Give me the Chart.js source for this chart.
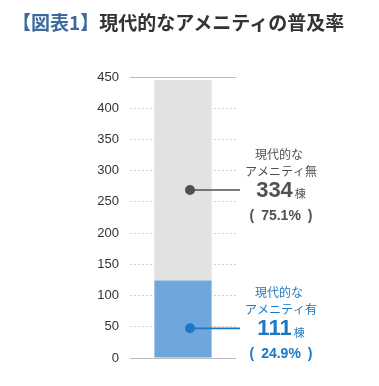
<!DOCTYPE html>
<html>
<head>
<meta charset="utf-8">
<script src="https://cdn.jsdelivr.net/npm/chart.js@4"></script>
<style>
    html, body { margin: 0; padding: 0; background: #fff; }
    .wrap { position: relative; width: 379px; height: 386px; }
    .title {
        position: absolute; left: 12px; top: 7px;
        font-family: "Noto Sans CJK JP", sans-serif; font-weight: bold;
        font-size: 19px; line-height: 30px; color: #333; white-space: nowrap;
    }
    .title span { color: #3d6a9e; }
    canvas { position: absolute; left: 0; top: 0; }
</style>
</head>
<body>
<div class="wrap">
    <canvas id="chart" width="379" height="386"></canvas>
    <div class="title"><span>【図表1】</span>現代的なアメニティの普及率</div>
</div>
<script>
// data
const categories = [''];
const seriesNames = ['現代的なアメニティ有', '現代的なアメニティ無'];
const withAmenity = [124];      // blue segment height as drawn
const withoutAmenity = [321];   // grey segment stacked on top
const yTicks = [0, 50, 100, 150, 200, 250, 300, 350, 400, 450];

// callout labels
const calloutNames = [['現代的な', 'アメニティ有'], ['現代的な', 'アメニティ無']];
const calloutCounts = ['111', '334'];
const calloutShares = ['24.9%', '75.1%'];
const calloutAt = [47.5, 269];  // y value where the dot sits

const colors = {
    blueBar: '#6fa7dc',
    greyBar: '#e2e2e2',
    blueInk: '#1c78c3',
    greyInk: '#505050'
};

const calloutPlugin = {
    id: 'callouts',
    afterDatasetsDraw(chart) {
        const ctx = chart.ctx;
        const y = chart.scales.y;
        const bar = chart.getDatasetMeta(0).data[0];
        const inks = [colors.blueInk, colors.greyInk];
        const textX = 281;
        const dotX = bar.x + 7;

        calloutAt.forEach((v, i) => {
            const py = y.getPixelForValue(v);
            const ink = inks[i];
            ctx.save();
            // leader line
            ctx.strokeStyle = ink;
            ctx.lineWidth = 1.6;
            ctx.beginPath();
            ctx.moveTo(dotX, py);
            ctx.lineTo(240, py);
            ctx.stroke();
            // dot
            ctx.fillStyle = ink;
            ctx.beginPath();
            ctx.arc(dotX, py, 5, 0, Math.PI * 2);
            ctx.fill();

            // text block
            ctx.textBaseline = 'middle';
            ctx.textAlign = 'center';
            ctx.font = '12px "Noto Sans CJK JP"';
            ctx.fillText(calloutNames[i][0], textX - 2, py - 36);
            ctx.fillText(calloutNames[i][1], textX, py - 19);

            // big number + 棟
            ctx.font = 'bold 22px "Liberation Sans"';
            const numW = ctx.measureText(calloutCounts[i]).width;
            ctx.font = '11px "Noto Sans CJK JP"';
            const unitW = ctx.measureText('棟').width;
            const start = textX - (numW + 2 + unitW) / 2;
            ctx.textAlign = 'left';
            ctx.font = 'bold 22px "Liberation Sans"';
            ctx.fillText(calloutCounts[i], start, py + 1);
            ctx.font = '11px "Noto Sans CJK JP"';
            ctx.fillText('棟', start + numW + 2, py + 4);

            // share in wide parentheses
            ctx.textAlign = 'center';
            ctx.font = 'bold 14px "Liberation Sans"';
            ctx.fillText('(\u2002' + calloutShares[i] + '\u2002)', textX, py + 26);
            ctx.restore();
        });
    }
};

new Chart(document.getElementById('chart'), {
    type: 'bar',
    data: {
        labels: categories,
        datasets: [
            { label: seriesNames[0], data: withAmenity, backgroundColor: colors.blueBar },
            { label: seriesNames[1], data: withoutAmenity, backgroundColor: colors.greyBar }
        ]
    },
    options: {
        responsive: false,
        animation: false,
        layout: { padding: { left: 0, top: 77, right: 143, bottom: 28 } },
        plugins: { legend: { display: false }, tooltip: { enabled: false } },
        datasets: { bar: { barPercentage: 1, categoryPercentage: 0.54 } },
        scales: {
            x: { stacked: true, display: false },
            y: {
                stacked: true,
                min: 0,
                max: 450,
                afterBuildTicks: (scale) => { scale.ticks = yTicks.map(v => ({ value: v })); },
                afterFit: (scale) => { scale.width = 130; },
                ticks: {
                    padding: 11,
                    color: '#333',
                    font: { family: '"Liberation Sans"', size: 13 }
                },
                grid: {
                    drawTicks: false,
                    color: (c) => (c.tick && (c.tick.value === 0 || c.tick.value === 450)) ? '#bdbdbd' : '#d0d0d0',
                    lineWidth: 1
                },
                border: {
                    display: false,
                    dash: (c) => (c.tick && (c.tick.value === 0 || c.tick.value === 450)) ? [] : [2, 2]
                }
            }
        }
    },
    plugins: [calloutPlugin]
});
</script>
</body>
</html>
